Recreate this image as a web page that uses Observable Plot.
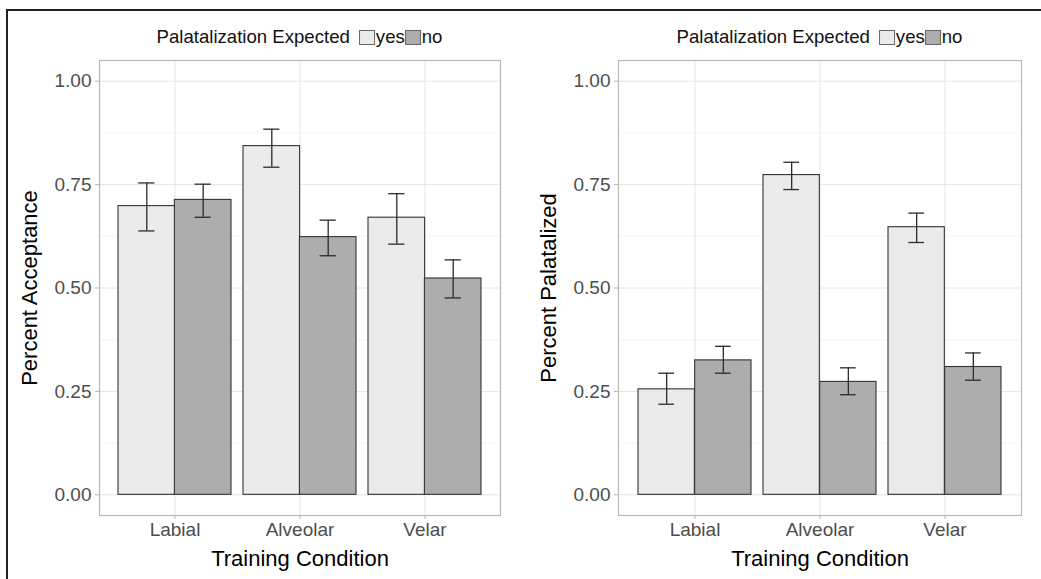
<!DOCTYPE html>
<html>
<head>
<meta charset="utf-8">
<script src="https://cdn.jsdelivr.net/npm/d3@7"></script>
<script src="https://cdn.jsdelivr.net/npm/@observablehq/plot@0.6"></script>
<style>
  body { margin: 0; background: #fff; }
  #wrap { position: relative; width: 1041px; height: 579px; overflow: hidden; background: #fff;
          font-family: "Liberation Sans", Arial, Helvetica, sans-serif; }
  #border { position: absolute; left: 6px; top: 9px; right: -10px; bottom: -10px;
            border-top: 2px solid #222; border-left: 2px solid #222; }
  .panel { position: absolute; top: 0; }
  .legend { position: absolute; top: 26px; height: 22px; display: flex; align-items: center;
            font-size: 18.6px; color: #111; white-space: nowrap; transform: translateX(-50%); }
  .legend .ttl { margin-right: 9px; }
  .legend .sw { display: inline-block; width: 14px; height: 13px; border: 1px solid #666; margin-right: 1px; }
</style>
</head>
<body>
<div id="wrap">
  <div id="border"></div>
</div>
<script>
// ---------- data ----------
const conditions = ["Labial", "Alveolar", "Velar"];
const groups = ["yes", "no"];
const groupFills = ["#ebebeb", "#adadad"];
const yTicks = [0, 0.25, 0.5, 0.75, 1];
const yMinorTicks = [0.125, 0.375, 0.625, 0.875];
const legendTitle = "Palatalization Expected";
const xTitle = "Training Condition";
const leftYTitle = "Percent Acceptance";
const rightYTitle = "Percent Palatalized";

// Left panel: acceptance
const accYesMean = [0.698, 0.843, 0.670];
const accYesLow  = [0.638, 0.792, 0.606];
const accYesHigh = [0.754, 0.884, 0.728];
const accNoMean  = [0.713, 0.623, 0.523];
const accNoLow   = [0.671, 0.578, 0.476];
const accNoHigh  = [0.751, 0.664, 0.568];

// Right panel: palatalized
const palYesMean = [0.255, 0.773, 0.647];
const palYesLow  = [0.219, 0.738, 0.610];
const palYesHigh = [0.294, 0.804, 0.681];
const palNoMean  = [0.325, 0.273, 0.309];
const palNoLow   = [0.294, 0.242, 0.277];
const palNoHigh  = [0.359, 0.307, 0.343];

// ---------- build ----------
const rows = (mean, lo, hi) => conditions.map((c, i) => ({cond: c, value: mean[i], lo: lo[i], hi: hi[i]}));
const FONT = "'Liberation Sans', Arial, Helvetica, sans-serif";

function panel(yes, no, yTitle, width) {
  const mL = 99, mR = 20;
  const pInner = 0.1, pOuter = 0.15;
  const step = (width - mL - mR) / (conditions.length - pInner + 2 * pOuter);
  const bw = step * (1 - pInner);
  const half = bw / 2, cap = 8;
  const barStyle = {stroke: "#333", strokeWidth: 1.1};
  const errStyle = {stroke: "#2b2b2b", strokeWidth: 1.3};
  return Plot.plot({
    width, height: 579,
    marginLeft: mL, marginRight: mR, marginTop: 60, marginBottom: 64,
    style: {fontFamily: FONT, background: "transparent", overflow: "visible"},
    x: {type: "band", domain: conditions, paddingInner: pInner, paddingOuter: pOuter, axis: null},
    y: {domain: [-0.05, 1.05], axis: null},
    marks: [
      Plot.gridY(yMinorTicks, {stroke: "#f3f3f3", strokeOpacity: 1, strokeWidth: 0.8}),
      Plot.gridY(yTicks, {stroke: "#e6e6e6", strokeOpacity: 1, strokeWidth: 1}),
      Plot.gridX(conditions, {stroke: "#e6e6e6", strokeOpacity: 1, strokeWidth: 1}),
      Plot.barY(yes, {x: "cond", y: "value", fill: groupFills[0], insetRight: half, ...barStyle}),
      Plot.barY(no, {x: "cond", y: "value", fill: groupFills[1], insetLeft: half, ...barStyle}),
      Plot.ruleX(yes, {x: "cond", y1: "lo", y2: "hi", dx: -bw / 4, ...errStyle}),
      Plot.ruleX(no, {x: "cond", y1: "lo", y2: "hi", dx: bw / 4, ...errStyle}),
      Plot.tickY(yes, {x: "cond", y: "hi", insetLeft: bw / 4 - cap, insetRight: 3 * bw / 4 - cap, ...errStyle}),
      Plot.tickY(yes, {x: "cond", y: "lo", insetLeft: bw / 4 - cap, insetRight: 3 * bw / 4 - cap, ...errStyle}),
      Plot.tickY(no, {x: "cond", y: "hi", insetLeft: 3 * bw / 4 - cap, insetRight: bw / 4 - cap, ...errStyle}),
      Plot.tickY(no, {x: "cond", y: "lo", insetLeft: 3 * bw / 4 - cap, insetRight: bw / 4 - cap, ...errStyle}),
      Plot.frame({stroke: "#b8b8b8", strokeWidth: 1.2}),
      Plot.axisY(yTicks, {tickSize: 4, tickPadding: 4, tickFormat: d3.format(".2f"),
        stroke: "#b3b3b3", fill: "#4d4d4d", fontSize: 19, label: null}),
      Plot.axisX({tickSize: 4, tickPadding: 3, stroke: "#b3b3b3", fill: "#4d4d4d", fontSize: 19, label: null}),
      Plot.text([yTitle], {text: d => d, frameAnchor: "left", textAnchor: "middle", lineAnchor: "middle",
        rotate: -90, dx: -70, fontSize: 22, fill: "#000"}),
      Plot.text([xTitle], {text: d => d, frameAnchor: "bottom", lineAnchor: "middle", dy: 43, fontSize: 22, fill: "#000"})
    ]
  });
}

function legend(centerX) {
  const el = document.createElement("div");
  el.className = "legend";
  el.style.left = centerX + "px";
  const t = document.createElement("span");
  t.className = "ttl";
  t.textContent = legendTitle;
  el.appendChild(t);
  groups.forEach((g, i) => {
    const sw = document.createElement("span");
    sw.className = "sw";
    sw.style.background = groupFills[i];
    el.appendChild(sw);
    const lab = document.createElement("span");
    lab.textContent = g;
    el.appendChild(lab);
  });
  return el;
}

const wrap = document.getElementById("wrap");
const left = panel(rows(accYesMean, accYesLow, accYesHigh), rows(accNoMean, accNoLow, accNoHigh), leftYTitle, 520);
left.classList.add("panel"); left.style.left = "0px";
wrap.appendChild(left);
const right = panel(rows(palYesMean, palYesLow, palYesHigh), rows(palNoMean, palNoLow, palNoHigh), rightYTitle, 522);
right.classList.add("panel"); right.style.left = "519px";
wrap.appendChild(right);
wrap.appendChild(legend(299.5));
wrap.appendChild(legend(819.5));
</script>
</body>
</html>
